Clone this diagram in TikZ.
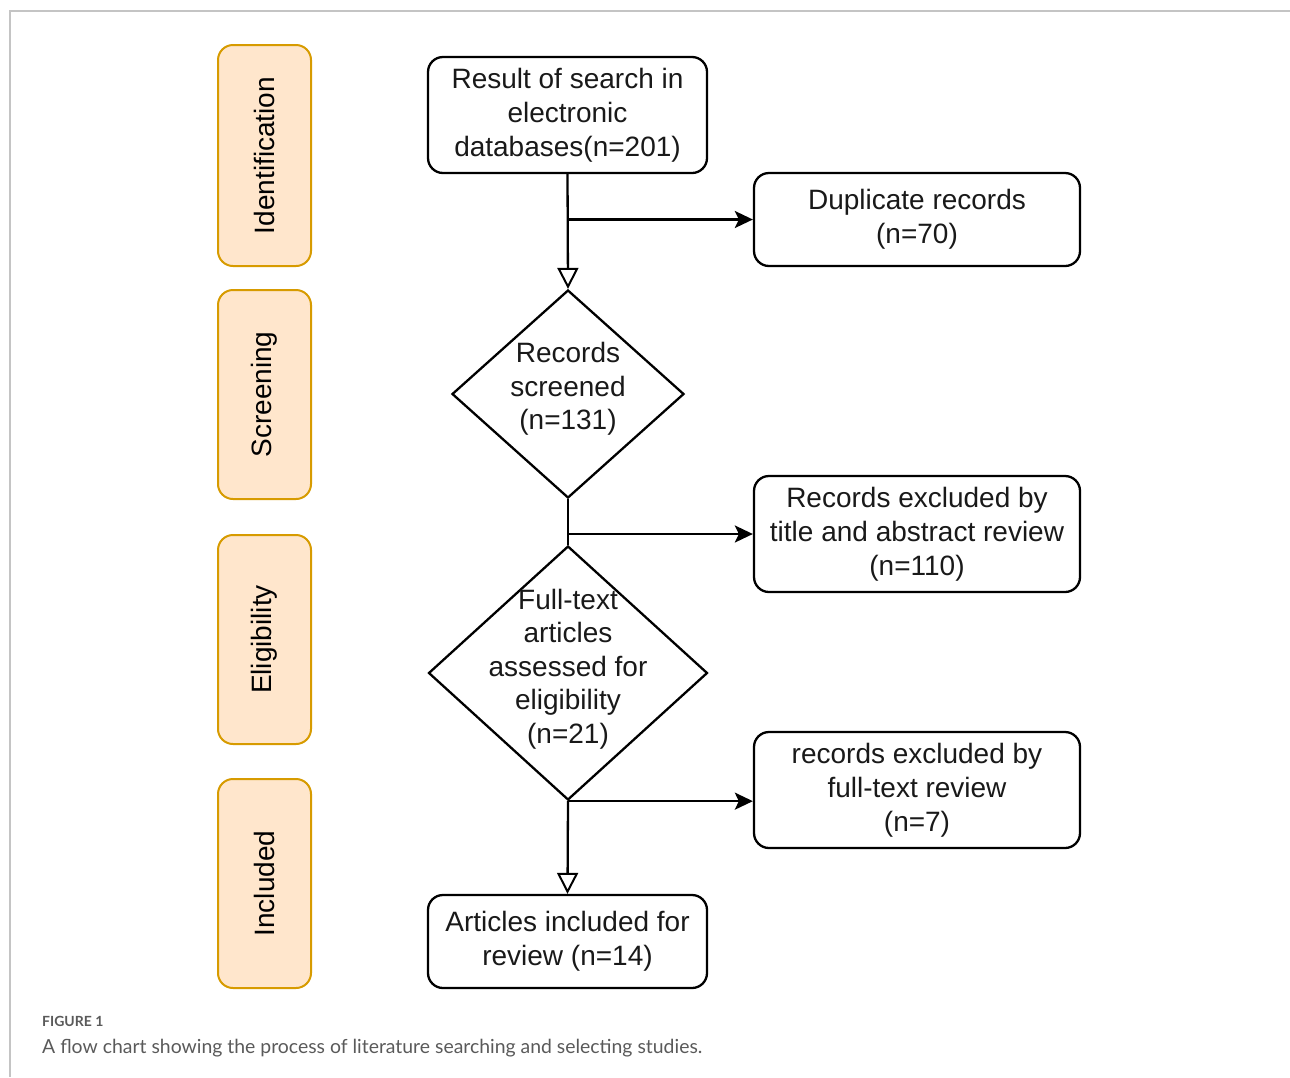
\documentclass[tikz,border=0pt]{standalone}
\usepackage{fontspec}
\setmainfont{Liberation Sans}
\newfontfamily\capfont{Lato}
\usetikzlibrary{arrows.meta,shapes.geometric}
\definecolor{stagefill}{HTML}{FFE6CC}
\definecolor{stagedraw}{HTML}{D79B00}
\definecolor{framegray}{HTML}{C4C4C4}
\definecolor{capgray}{HTML}{5A5A5A}
\begin{document}
\begin{tikzpicture}[x=1pt,y=-1pt,
  stagebox/.style={draw=stagedraw,fill=stagefill,line width=2pt,rounded corners=15pt,
    minimum width=93pt,inner sep=0pt,anchor=center},
  stagetext/.style={rotate=90,font=\fontsize{28}{32}\selectfont,text=black},
  flowbox/.style={draw=black,line width=2.3pt,rounded corners=15pt,inner sep=0pt,align=center,
    font=\fontsize{28}{34}\selectfont,text=black!90},
  decision/.style={draw=black,line width=2.3pt,diamond,inner sep=0pt},
  dtext/.style={align=center,font=\fontsize{28}{33.5}\selectfont,text=black!90},
  link/.style={draw=black,line width=2.3pt},
  filledarrow/.style={link,-{Stealth[length=18pt,width=17pt,inset=4pt]}},
  openarrow/.style={link,-{Triangle[open,length=21pt,width=21pt,line width=2pt]}}
]
\useasboundingbox (0,0) rectangle (1290,1077);
% frame
\draw[framegray,line width=2pt] (1290,10.5) -- (9.5,10.5) -- (9.5,1077);

% stage boxes
\node[stagebox,minimum height=221pt] (s1) at (264.5,155.5) {};
\node[stagetext] (s1t) at (s1.center) {Identification};
\node[stagebox,minimum height=209pt] (s2) at (264.5,394.5) {};
\node[stagetext] (s2t) at (s2.center) {Screening};
\node[stagebox,minimum height=209pt] (s3) at (264.5,639.5) {};
\node[stagetext] (s3t) at (s3.center) {Eligibility};
\node[stagebox,minimum height=209pt] (s4) at (264.5,883.5) {};
\node[stagetext] (s4t) at (s4.center) {Included};

% flow nodes
\node[flowbox,minimum width=279pt,minimum height=116pt] (top) at (567.5,115) {Result of search in\\electronic\\databases(n=201)};
\node[flowbox,minimum width=326pt,minimum height=93pt] (dup) at (917,219.5) {Duplicate records\\(n=70)};
\node[decision,minimum width=232pt,minimum height=208pt] (d1) at (568,394) {};
\node[dtext] (d1t) at (568,389) {Records\\screened\\(n=131)};
\node[flowbox,minimum width=326pt,minimum height=116pt] (ex1) at (917,534) {Records excluded by\\title and abstract review\\(n=110)};
\node[decision,minimum width=279pt,minimum height=254pt] (d2) at (568,673) {};
\node[dtext] (d2t) at (568,669) {Full-text\\articles\\assessed for\\eligibility\\(n=21)};
\node[flowbox,minimum width=326pt,minimum height=116pt] (ex2) at (917,790) {records excluded by\\full-text review\\(n=7)};
\node[flowbox,minimum width=279pt,minimum height=93pt] (fin) at (567.5,941.5) {Articles included for\\review (n=14)};

% connectors
\coordinate (j1) at (568,219.5);
\coordinate (j2) at (568,534);
\draw[openarrow] (top.south) -- (d1.north);
\draw[filledarrow] (j1) -- (dup.west);
\draw[link] (d1.south) -- (d2.north);
\draw[filledarrow] (j2) -- (ex1.west);
\draw[openarrow] (d2.south) -- (fin.north);
\draw[filledarrow] (d2.south) -- (d2.south -| ex2.west);

% caption
\node[anchor=base west,inner sep=0pt,text=capgray,font=\capfont\bfseries\fontsize{14}{16}\selectfont] (figlabel) at (42,1026) {FIGURE 1};
\node[anchor=base west,inner sep=0pt,text=capgray,font=\capfont\fontsize{19.4}{22}\selectfont] (caption) at (42,1053) {A flow chart showing the process of literature searching and selecting studies.};
\end{tikzpicture}
\end{document}
